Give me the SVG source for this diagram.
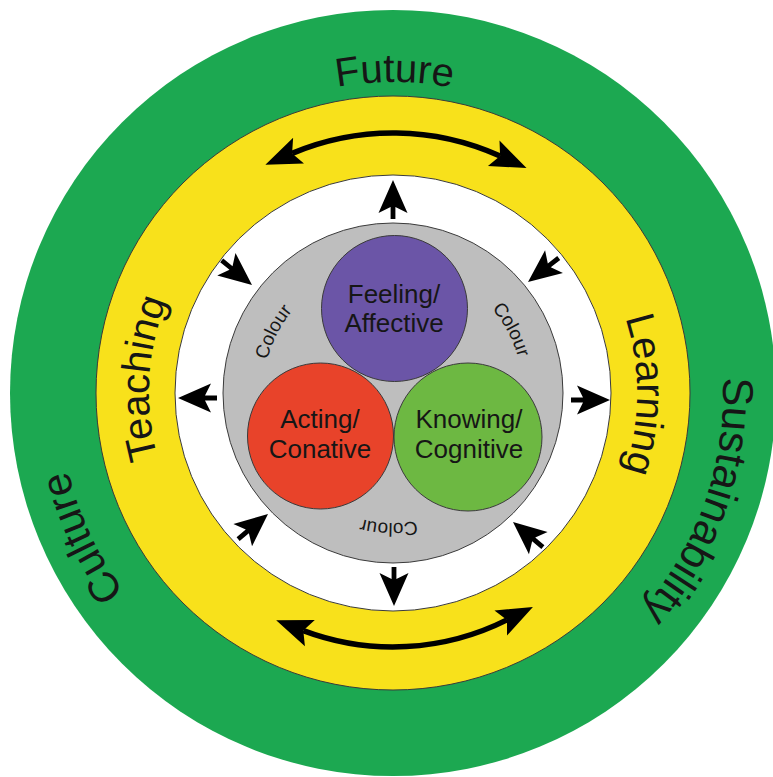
<svg xmlns="http://www.w3.org/2000/svg" xmlns:xlink="http://www.w3.org/1999/xlink" width="773" height="777" viewBox="0 0 773 777">
<style>
.lbl{font-family:"Liberation Sans",Arial,sans-serif;fill:#161616}
.big{font-size:40px}
.mid{font-size:26px}
.sm{font-size:19px}
.ring{stroke:#3a3a3a;stroke-width:1}
.arc{fill:none;stroke:#000;stroke-width:5.5}
.ar{fill:#000}
</style>
<defs>
<marker id="ah" viewBox="-10 -17 44 34" refX="0" refY="0" markerWidth="44" markerHeight="34" markerUnits="userSpaceOnUse" orient="auto-start-reverse">
<path d="M29,0 L-7,-14 L0,0 L-7,14 Z" fill="#000"/>
</marker>
<path id="sa" d="M0,0 L-33,-14.5 L-27,-2.4 L-39,-2.4 L-39,2.4 L-27,2.4 L-33,14.5 Z"/>
<path id="p311" d="M393,704 A311,311 0 1 1 393,82 A311,311 0 1 1 393,704"/>
<path id="p244" d="M393,637 A244,244 0 1 1 393,149 A244,244 0 1 1 393,637"/>
<path id="p334" d="M393,727 A334,334 0 1 1 393,59 A334,334 0 1 1 393,727"/>
<path id="p330" d="M393,723 A330,330 0 1 1 393,63 A330,330 0 1 1 393,723"/>
<path id="p130" d="M393,263 A130,130 0 1 1 393,523 A130,130 0 1 1 393,263"/>
</defs>
<rect width="773" height="777" fill="#fff"/>
<g id="outer-ring">
<circle cx="393" cy="393" r="383" fill="#1CA851"/>
<text class="lbl big"><textPath href="#p311" startOffset="50.08%" text-anchor="middle">Future</textPath></text>
<text class="lbl" font-size="42"><textPath href="#p334" startOffset="18.06%" text-anchor="middle">Culture</textPath></text>
<text class="lbl" font-size="43"><textPath href="#p330" startOffset="80.36%" text-anchor="middle">Sustainability</textPath></text>
</g>
<g id="yellow-ring">
<circle class="ring" cx="393" cy="393" r="297" fill="#F8E11B"/>
<text class="lbl big"><textPath href="#p244" startOffset="25.94%" text-anchor="middle">Teaching</textPath></text>
<text class="lbl big"><textPath href="#p244" startOffset="75.1%" text-anchor="middle">Learning</textPath></text>
</g>
<g id="white-ring">
<circle class="ring" cx="393" cy="393" r="218" fill="#fff"/>
</g>
<g id="grey-ring">
<circle class="ring" cx="393" cy="393" r="170" fill="#BEBEBE"/>
<text class="lbl sm"><textPath href="#p130" startOffset="17.17%" text-anchor="middle">Colour</textPath></text>
<text class="lbl sm"><textPath href="#p130" startOffset="50.5%" text-anchor="middle">Colour</textPath></text>
<text class="lbl sm"><textPath href="#p130" startOffset="82.5%" text-anchor="middle">Colour</textPath></text>
</g>
<g id="feeling">
<circle class="ring" cx="394.5" cy="308.5" r="73" fill="#6B55A7"/>
<text class="lbl mid" text-anchor="middle"><tspan x="394" y="303">Feeling/</tspan><tspan x="394" y="332">Affective</tspan></text>
</g>
<g id="acting">
<circle class="ring" cx="320.5" cy="436" r="73" fill="#E8432A"/>
<text class="lbl mid" text-anchor="middle"><tspan x="320" y="428">Acting/</tspan><tspan x="320" y="458">Conative</tspan></text>
</g>
<g id="knowing">
<circle class="ring" cx="468" cy="437" r="74" fill="#6DB842"/>
<text class="lbl mid" text-anchor="middle"><tspan x="469" y="428">Knowing/</tspan><tspan x="469" y="458">Cognitive</tspan></text>
</g>
<g id="connectors">
<path class="arc" d="M292.1,153.4 A260,260 0 0 1 500.1,156.1" marker-start="url(#ah)" marker-end="url(#ah)"/>
<path class="arc" d="M507.0,619.9 A254,254 0 0 1 303.3,630.6" marker-start="url(#ah)" marker-end="url(#ah)"/>
<use href="#sa" class="ar" transform="translate(393,180) rotate(-90)"/>
<use href="#sa" class="ar" transform="translate(394,606) rotate(90)"/>
<use href="#sa" class="ar" transform="translate(178,398) rotate(180)"/>
<use href="#sa" class="ar" transform="translate(610,400)"/>
<use href="#sa" class="ar" transform="translate(252,285) rotate(39)"/>
<use href="#sa" class="ar" transform="translate(528,282) rotate(142)"/>
<use href="#sa" class="ar" transform="translate(268,514) rotate(-40)"/>
<use href="#sa" class="ar" transform="translate(513,522) rotate(220)"/>
</g>
</svg>
